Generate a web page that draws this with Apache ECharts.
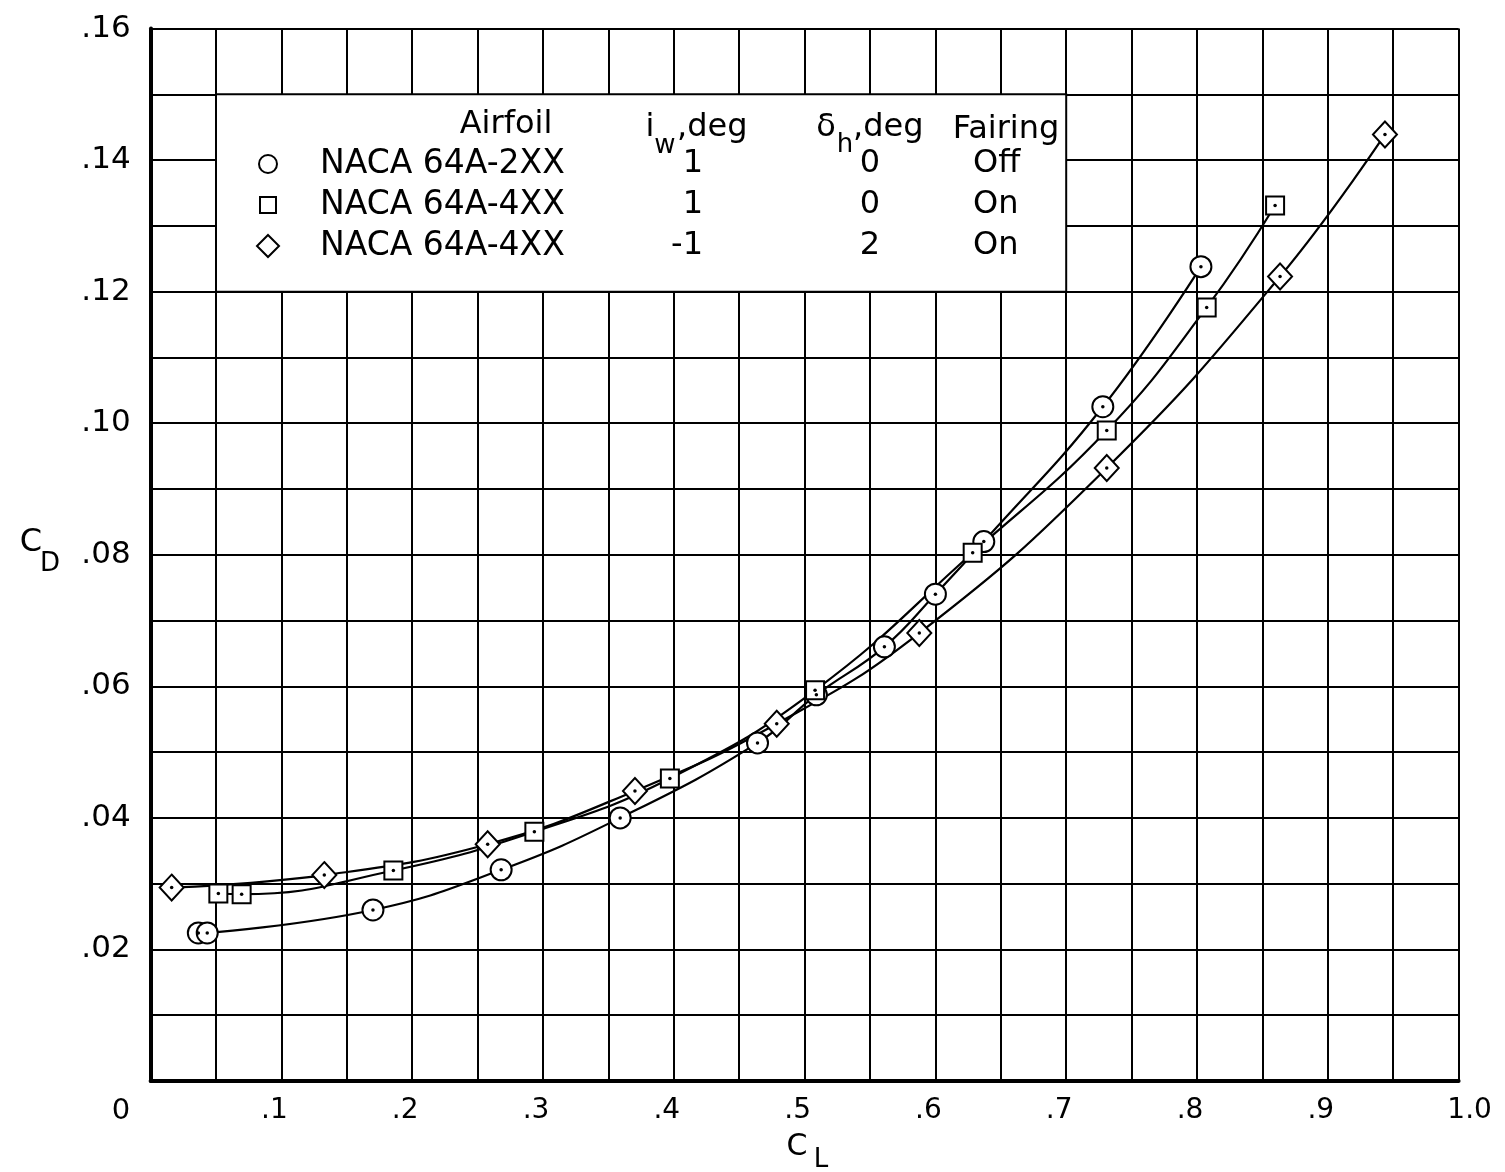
<!DOCTYPE html>
<html><head><meta charset="utf-8">
<script src="https://cdn.jsdelivr.net/npm/echarts@6/dist/echarts.min.js"></script>
<style>html,body{margin:0;padding:0;background:#fff}#c{width:1505px;height:1172px}</style>
</head><body><div id="c"></div>
<script>
// ---- data ----
const clCircle = [0.0365, 0.0433, 0.170, 0.268, 0.359, 0.464, 0.509, 0.561, 0.600, 0.637, 0.728, 0.803];
const cdCircle = [0.0225, 0.0225, 0.0260, 0.0321, 0.0400, 0.0514, 0.0587, 0.0660, 0.0740, 0.0820, 0.1025, 0.1238];

const clSquare = [0.0518, 0.0696, 0.1856, 0.2934, 0.397, 0.508, 0.6285, 0.731, 0.8074, 0.8597];
const cdSquare = [0.0285, 0.0284, 0.0320, 0.0379, 0.0460, 0.0594, 0.0803, 0.0989, 0.1176, 0.1331];

const clDiamond = [0.0161, 0.1328, 0.2577, 0.3703, 0.4787, 0.5877, 0.731, 0.8635, 0.9437];
const cdDiamond = [0.0294, 0.0313, 0.0360, 0.0441, 0.0543, 0.0681, 0.0932, 0.1223, 0.1439];

const xTickValues = [0.1, 0.2, 0.3, 0.4, 0.5, 0.6, 0.7, 0.8, 0.9, 1.0];
const xTickLabels = ['.1', '.2', '.3', '.4', '.5', '.6', '.7', '.8', '.9', '1.0'];
const yTickValues = [0.02, 0.04, 0.06, 0.08, 0.10, 0.12, 0.14, 0.16];
const yTickLabels = ['.02', '.04', '.06', '.08', '.10', '.12', '.14', '.16'];

const legendAirfoil = ['NACA 64A-2XX', 'NACA 64A-4XX', 'NACA 64A-4XX'];
const legendIw = ['1', '1', '-1'];
const legendDh = ['0', '0', '2'];
const legendFairing = ['Off', 'On', 'On'];
const legendBox = [[0.05, 0.15], [0.70, 0.12]];

// ---- chart ----
const FONT = 'DejaVu Sans';
const chart = echarts.init(document.getElementById('c'));
const pairs = (xs, ys) => xs.map((x, i) => [x, ys[i]]);

function lookup(vals, labels, v) {
  for (let i = 0; i < vals.length; i++) if (Math.abs(vals[i] - v) < 1e-6) return labels[i];
  return '';
}

function lineSeries(data) {
  return {
    type: 'line', data: data, smooth: 0.45, showSymbol: false,
    lineStyle: { color: '#000', width: 2.2 }, z: 2, silent: true
  };
}
function markSeries(data, symbol, size) {
  return {
    type: 'scatter', data: data, symbol: symbol, symbolSize: size,
    itemStyle: { color: '#000', borderColor: '#000', borderWidth: 2.2, opacity: 1 }, z: 3, silent: true
  };
}
function dotSeries(data) {
  return {
    type: 'scatter', data: data, symbol: 'circle', symbolSize: 3.5,
    itemStyle: { color: '#000', opacity: 1 }, z: 4, silent: true
  };
}

const circ = pairs(clCircle, cdCircle);
const sq = pairs(clSquare, cdSquare);
const dia = pairs(clDiamond, cdDiamond);

const boxSeries = {
  type: 'line', data: [], z: 1, silent: true,
  markArea: {
    silent: true,
    itemStyle: { color: '#fff', borderColor: '#000', borderWidth: 2, opacity: 1 },
    data: [[{ coord: legendBox[0] }, { coord: legendBox[1] }]]
  }
};

const txt = (x, y, s, size, align) => ({
  type: 'text', x: x, y: y, z: 100,
  style: { text: s, font: size + 'px "' + FONT + '"', fill: '#000', textAlign: align || 'center', textVerticalAlign: 'middle' }
});

const rowsY = [164, 205, 246];
const graphics = [
  // axis titles
  txt(31, 543, 'C', 32), txt(50, 564, 'D', 26),
  txt(797, 1147, 'C', 30), txt(821, 1160, 'L', 26),
  txt(121, 1111, '0', 29),
  // legend headers
  txt(506, 125, 'Airfoil', 32),
  txt(650, 128, 'i', 32), txt(665, 146, 'w', 26), txt(677, 128, ',deg', 32, 'left'),
  txt(826, 128, 'δ', 32), txt(845, 145, 'h', 26), txt(853, 128, ',deg', 32, 'left'),
  txt(1006, 130, 'Fairing', 32),
  // legend symbols
  { type: 'circle', z: 100, shape: { cx: 268, cy: rowsY[0], r: 9 }, style: { fill: '#fff', stroke: '#000', lineWidth: 2 } },
  { type: 'rect', z: 100, shape: { x: 260, y: rowsY[1] - 8, width: 16, height: 16 }, style: { fill: '#fff', stroke: '#000', lineWidth: 2 } },
  { type: 'polygon', z: 100, shape: { points: [[268, rowsY[2] - 11], [279, rowsY[2]], [268, rowsY[2] + 11], [257, rowsY[2]]] }, style: { fill: '#fff', stroke: '#000', lineWidth: 2 } }
];
for (let i = 0; i < 3; i++) {
  graphics.push(txt(320, rowsY[i], legendAirfoil[i], 33, 'left'));
  graphics.push(txt(703, rowsY[i], legendIw[i], 32, 'right'));
  graphics.push(txt(870, rowsY[i], legendDh[i], 32));
  graphics.push(txt(973, rowsY[i], legendFairing[i], 32, 'left'));
}

chart.setOption({
  backgroundColor: '#fff',
  animation: false,
  grid: { left: 150.6, right: 46.4, top: 28.5, bottom: 91 },
  xAxis: {
    type: 'value', min: 0, max: 1, interval: 0.05,
    axisLine: { show: true, lineStyle: { color: '#000', width: 4 } },
    axisTick: { show: false },
    splitLine: { show: true, lineStyle: { color: '#000', width: 2 } },
    axisLabel: {
      margin: 16, color: '#000', fontFamily: FONT, fontSize: 28,
      formatter: v => {
        const s = lookup(xTickValues, xTickLabels, v);
        if (!s) return '';
        return s.charAt(0) === '.' ? '{a|' + s + '}' : '{b|' + s + '}';
      },
      rich: {
        a: { fontFamily: FONT, fontSize: 28, color: '#000', padding: [0, 14, 0, 0] },
        b: { fontFamily: FONT, fontSize: 28, color: '#000', padding: [0, 0, 0, 22] }
      }
    }
  },
  yAxis: {
    type: 'value', min: 0, max: 0.16, interval: 0.01,
    axisLine: { show: true, lineStyle: { color: '#000', width: 4 } },
    axisTick: { show: false },
    splitLine: { show: true, lineStyle: { color: '#000', width: 2 } },
    axisLabel: {
      margin: 20, color: '#000', fontFamily: FONT, fontSize: 31,
      formatter: v => lookup(yTickValues, yTickLabels, v)
    }
  },
  graphic: graphics,
  series: [
    boxSeries,
    lineSeries(circ.slice(1)),
    lineSeries(sq),
    lineSeries(dia),
    markSeries(circ, 'emptyCircle', 21),
    markSeries(sq, 'emptyRect', 18),
    markSeries(dia, 'emptyDiamond', [24, 26]),
    dotSeries(circ), dotSeries(sq), dotSeries(dia)
  ]
});
</script>
</body></html>
